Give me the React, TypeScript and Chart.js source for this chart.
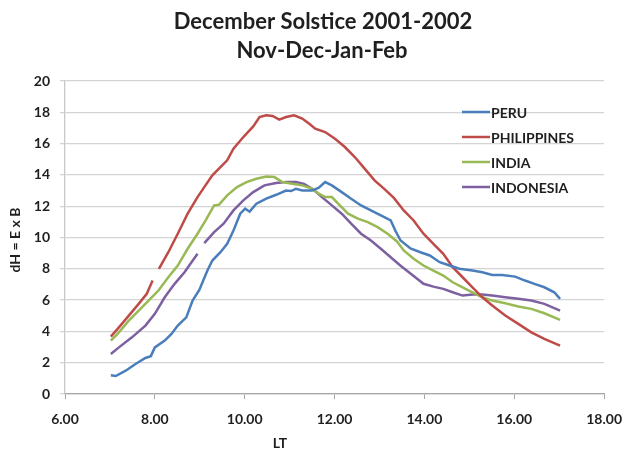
import { useEffect, useRef } from "react";
import { Chart, registerables } from "chart.js";

Chart.register(...registerables);

// Local time (hours) and dH = E x B values for each station group.
// A null value leaves a break in the trace.
const peruLT = [7.02, 7.13, 7.35, 7.57, 7.79, 7.91, 8.0, 8.22, 8.37, 8.51, 8.7, 8.84, 8.99, 9.17, 9.28, 9.46, 9.61, 9.75, 9.9, 10.01, 10.11, 10.26, 10.48, 10.7, 10.92, 11.03, 11.14, 11.28, 11.5, 11.65, 11.79, 11.94, 12.16, 12.37, 12.59, 12.81, 13.03, 13.25, 13.36, 13.47, 13.69, 13.91, 14.12, 14.34, 14.56, 14.78, 15.07, 15.29, 15.51, 15.73, 16.02, 16.24, 16.45, 16.67, 16.89, 17.02];
const peruDH = [1.2, 1.15, 1.49, 1.92, 2.3, 2.42, 2.98, 3.41, 3.84, 4.37, 4.9, 5.97, 6.65, 7.89, 8.53, 9.06, 9.6, 10.45, 11.52, 11.84, 11.65, 12.16, 12.48, 12.73, 13.0, 12.97, 13.11, 13.0, 13.0, 13.18, 13.54, 13.33, 12.9, 12.47, 12.05, 11.73, 11.41, 11.09, 10.4, 9.81, 9.3, 9.06, 8.85, 8.42, 8.21, 8.0, 7.89, 7.78, 7.61, 7.61, 7.5, 7.25, 7.04, 6.82, 6.5, 6.08];

const philippinesLT = [7.02, 7.2, 7.42, 7.64, 7.82, 7.95, 8.02, 8.09, 8.3, 8.51, 8.73, 8.95, 9.1, 9.28, 9.46, 9.61, 9.75, 9.97, 10.19, 10.33, 10.48, 10.62, 10.77, 10.92, 11.1, 11.28, 11.43, 11.57, 11.79, 12.01, 12.23, 12.45, 12.67, 12.89, 13.1, 13.32, 13.54, 13.76, 13.98, 14.2, 14.42, 14.63, 14.85, 15.07, 15.29, 15.51, 15.8, 16.09, 16.38, 16.67, 17.02];
const philippinesDH = [3.67, 4.26, 5.01, 5.76, 6.4, 7.25, null, 8.0, 9.06, 10.24, 11.52, 12.58, 13.22, 13.97, 14.5, 14.93, 15.67, 16.42, 17.1, 17.7, 17.81, 17.77, 17.53, 17.7, 17.81, 17.6, 17.28, 16.95, 16.74, 16.31, 15.78, 15.14, 14.4, 13.65, 13.12, 12.53, 11.73, 11.09, 10.24, 9.6, 8.96, 8.1, 7.46, 6.82, 6.18, 5.65, 5.01, 4.48, 3.94, 3.52, 3.09];

const indiaLT = [7.02, 7.17, 7.42, 7.64, 7.86, 8.08, 8.3, 8.51, 8.73, 8.95, 9.13, 9.32, 9.43, 9.61, 9.83, 10.04, 10.26, 10.48, 10.66, 10.84, 11.06, 11.28, 11.5, 11.65, 11.79, 11.94, 12.08, 12.3, 12.52, 12.74, 12.96, 13.18, 13.39, 13.54, 13.76, 13.98, 14.2, 14.42, 14.63, 14.85, 15.07, 15.29, 15.51, 15.8, 16.09, 16.38, 16.67, 17.02];
const indiaDH = [3.41, 3.84, 4.69, 5.33, 5.97, 6.61, 7.46, 8.21, 9.28, 10.24, 11.09, 12.05, 12.1, 12.69, 13.22, 13.54, 13.75, 13.9, 13.86, 13.54, 13.43, 13.33, 13.12, 12.8, 12.58, 12.58, 12.16, 11.52, 11.2, 10.98, 10.66, 10.24, 9.75, 9.17, 8.64, 8.21, 7.89, 7.57, 7.14, 6.82, 6.5, 6.18, 5.97, 5.8, 5.59, 5.44, 5.16, 4.73];

const indonesiaLT = [7.02, 7.2, 7.49, 7.79, 8.0, 8.22, 8.44, 8.66, 8.95, 9.02, 9.1, 9.32, 9.53, 9.75, 9.97, 10.19, 10.44, 10.7, 10.92, 11.14, 11.32, 11.5, 11.72, 11.94, 12.16, 12.37, 12.59, 12.81, 13.03, 13.25, 13.47, 13.69, 13.98, 14.2, 14.42, 14.63, 14.85, 15.07, 15.29, 15.51, 15.8, 16.09, 16.38, 16.67, 17.02];
const indonesiaDH = [2.56, 2.98, 3.62, 4.37, 5.12, 6.18, 7.04, 7.78, 8.96, null, 9.64, 10.34, 10.88, 11.73, 12.37, 12.9, 13.33, 13.48, 13.54, 13.54, 13.43, 13.12, 12.58, 12.05, 11.52, 10.88, 10.24, 9.81, 9.28, 8.74, 8.2, 7.7, 7.04, 6.86, 6.72, 6.5, 6.29, 6.35, 6.35, 6.29, 6.18, 6.08, 5.97, 5.76, 5.33];

const seriesNames = ["PERU", "PHILIPPINES", "INDIA", "INDONESIA"];
const seriesColors = ["#4a7ebb", "#be4b48", "#98b954", "#7d60a0"];
const seriesLT = [peruLT, philippinesLT, indiaLT, indonesiaLT];
const seriesDH = [peruDH, philippinesDH, indiaDH, indonesiaDH];

const titleLines = ["December Solstice 2001-2002", "Nov-Dec-Jan-Feb"];
const xTitle = "LT";
const yTitle = "dH = E x B";

const FONT = "Lato, 'Open Sans', sans-serif";
const TEXT = "#1f1f1f";

// Titles, axis titles and the in-plot legend.
const annotations = {
  id: "annotations",
  afterDraw(chart: any) {
    const ctx = chart.ctx as CanvasRenderingContext2D;
    ctx.save();
    ctx.fillStyle = TEXT;
    ctx.textAlign = "center";
    ctx.textBaseline = "alphabetic";
    ctx.font = `bold 22px ${FONT}`;
    ctx.fillText(titleLines[0], 323, 29);
    ctx.fillText(titleLines[1], 322, 58);

    ctx.font = `bold 14px ${FONT}`;
    ctx.textBaseline = "middle";
    ctx.fillText(xTitle, 280, 443);

    ctx.save();
    ctx.translate(15, 240);
    ctx.rotate(-Math.PI / 2);
    ctx.fillText(yTitle, 0, 0);
    ctx.restore();

    ctx.textAlign = "left";
    seriesNames.forEach((name, i) => {
      const y = 112 + i * 25;
      ctx.strokeStyle = seriesColors[i];
      ctx.lineWidth = 2.5;
      ctx.beginPath();
      ctx.moveTo(462, y);
      ctx.lineTo(490, y);
      ctx.stroke();
      ctx.fillText(name, 491, y + 1);
    });
    ctx.restore();
  },
};

export default function App() {
  const canvasRef = useRef<HTMLCanvasElement | null>(null);

  useEffect(() => {
    document.body.style.margin = "0";
    const canvas = canvasRef.current;
    if (!canvas) return;

    const datasets = seriesNames.map((name, i) => ({
      label: name,
      data: seriesLT[i].map((lt, j) => ({ x: lt, y: seriesDH[i][j] })),
      borderColor: seriesColors[i],
      backgroundColor: seriesColors[i],
      borderWidth: 2.5,
      pointRadius: 0,
      tension: 0,
      spanGaps: false,
      fill: false,
    }));

    const chart = new Chart(canvas, {
      type: "line",
      data: { datasets } as any,
      options: {
        responsive: false,
        animation: false,
        layout: { padding: { top: 81, right: 20, left: 0, bottom: 0 } },
        plugins: {
          legend: { display: false },
          title: { display: false },
          tooltip: { enabled: false },
        },
        scales: {
          x: {
            type: "linear",
            min: 6,
            max: 18,
            afterFit: (s: any) => {
              s.height = 60;
            },
            ticks: {
              stepSize: 2,
              padding: 12,
              color: TEXT,
              font: { family: FONT, size: 14, weight: "bold" },
              callback: (v: any) => Number(v).toFixed(2),
            },
            grid: {
              drawOnChartArea: false,
              drawTicks: true,
              tickLength: 5,
              color: "#a6a6a6",
            },
            border: { color: "#a6a6a6", width: 1.3 },
          },
          y: {
            min: 0,
            max: 20,
            afterFit: (s: any) => {
              s.width = 65;
            },
            ticks: {
              stepSize: 2,
              padding: 10,
              color: TEXT,
              font: { family: FONT, size: 14, weight: "bold" },
            },
            grid: {
              color: "#d4d4d4",
              lineWidth: 1.3,
              tickLength: 5,
            },
            border: { color: "#c8c8c8", width: 1.3 },
          },
        },
      } as any,
      plugins: [annotations],
    });

    return () => chart.destroy();
  }, []);

  return (
    <canvas
      ref={canvasRef}
      width={634}
      height={454}
      style={{ display: "block", width: 634, height: 454 }}
    />
  );
}
